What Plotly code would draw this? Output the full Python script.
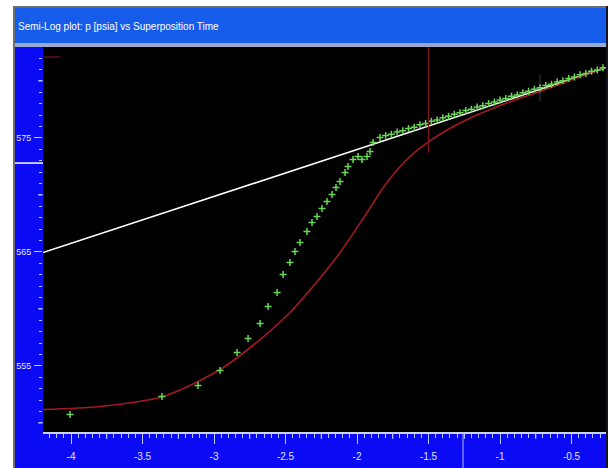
import plotly.graph_objects as go

# ---- data -------------------------------------------------------------
# measured pressure (green crosses): log10 superposition time vs p
meas_x = [-4.007, -3.364, -3.112, -2.958, -2.839, -2.762, -2.678, -2.622, -2.559,
          -2.517, -2.469, -2.434, -2.399, -2.350, -2.315, -2.280, -2.245, -2.210,
          -2.175, -2.147, -2.119, -2.084, -2.063, -2.028, -1.993, -1.965, -1.930,
          -1.909, -1.888, -1.839,
          -1.80, -1.76, -1.72, -1.68, -1.64, -1.60, -1.56, -1.52, -1.48, -1.44,
          -1.40, -1.36, -1.32, -1.28, -1.24, -1.20, -1.16, -1.12, -1.08, -1.04,
          -1.00, -0.96, -0.92, -0.88, -0.84, -0.80, -0.76, -0.72, -0.68, -0.64,
          -0.60, -0.56, -0.52, -0.48, -0.44, -0.40, -0.36, -0.32, -0.28]
meas_p = [550.74, 552.32, 553.29, 554.60, 556.18, 557.41, 558.73, 560.22, 561.45,
          563.02, 564.08, 565.04, 565.83, 566.80, 567.59, 568.11, 568.81, 569.43,
          570.04, 570.66, 571.18, 571.97, 572.50, 573.11, 573.38, 573.11, 573.38,
          573.81, 574.60, 575.04,
          575.21, 575.33, 575.52, 575.64, 575.84, 575.95, 576.15, 576.27, 576.46, 576.58,
          576.78, 576.90, 577.09, 577.21, 577.40, 577.52, 577.72, 577.83, 578.03, 578.15,
          578.34, 578.46, 578.66, 578.78, 578.97, 579.09, 579.28, 579.40, 579.60, 579.71,
          579.91, 580.03, 580.22, 580.34, 580.54, 580.65, 580.85, 580.97, 581.16]

# model response (red curve)
model_x = [-4.196, -3.797, -3.357, -2.958, -2.678, -2.469, -2.308, -2.119, -1.930,
           -1.825, -1.720, -1.615, -1.490, -1.370, -1.259, -1.000, -0.720, -0.266]
model_p = [551.18, 551.45, 552.32, 554.69, 557.32, 559.69, 561.97, 564.95, 568.46,
           570.50, 572.20, 573.55, 574.75, 575.70, 576.45, 577.85, 579.08, 581.18]

# semi-log straight line (white)
line_x = [-4.196, -0.266]
line_p = [564.95, 581.13]

# cursor at the start of the semi-log period
cursor_x = -1.5
cursor_bottom = 573.7

x_ticks = [-4, -3.5, -3, -2.5, -2, -1.5, -1, -0.5]
x_labels = ["-4", "-3.5", "-3", "-2.5", "-2", "-1.5", "-1", "-0.5"]
y_ticks = [555, 565, 575]
y_labels = ["555", "565", "575"]
x_mid_ticks = [-4.25, -3.75, -3.25, -2.75, -2.25, -1.75, -1.25, -0.75, -0.25]
y_mid_ticks = [550, 560, 570, 580]

X_RANGE = [-4.196, -0.259]
Y_RANGE = [549.21, 582.98]

# ---- page geometry (px) -----------------------------------------------
W, H = 608, 468
ML, MR, MT, MB = 43, 2, 47, 36
PW, PH = W - ML - MR, H - MT - MB


def px(xp):
    return (xp - ML) / PW


def py(yp):
    return (H - MB - yp) / PH


AXIS_BLUE = "rgb(10,10,245)"
TICK_COL = "rgb(185,200,255)"
FONT = "Liberation Sans, Arial, sans-serif"

fig = go.Figure()

fig.add_trace(go.Scatter(x=line_x, y=line_p, mode="lines",
                         line=dict(color="white", width=1.6),
                         hoverinfo="skip", showlegend=False))
fig.add_trace(go.Scatter(x=model_x, y=model_p, mode="lines",
                         line=dict(color="rgb(165,25,35)", width=1.6, shape="spline",
                                   smoothing=0.8),
                         showlegend=False))
fig.add_trace(go.Scatter(x=meas_x, y=meas_p, mode="markers",
                         marker=dict(symbol="cross-thin", size=5,
                                     line=dict(color="rgb(105,215,85)", width=1.5)),
                         showlegend=False))

shapes = []


def rect(x0, y0, x1, y1, color, layer="below"):
    shapes.append(dict(type="rect", xref="paper", yref="paper",
                       x0=px(x0), x1=px(x1), y0=py(y1), y1=py(y0),
                       fillcolor=color, line=dict(width=0), layer=layer))


# window frame and title bar
rect(0, 0, 13, H, "white")
rect(13, 0, 15, H, "rgb(110,110,110)")
rect(0, 0, W, 6, "white")
rect(13, 6, W, 8, "rgb(110,110,110)")
rect(15, 8, 606, 43, "rgb(22,92,235)")
rect(15, 43, 606, 47, "rgb(150,170,205)")
rect(606, 6, W, H, "rgb(20,20,30)")

# medium ticks
for v in x_mid_ticks:
    shapes.append(dict(type="line", xref="x", yref="paper", x0=v, x1=v,
                       y0=0, y1=-7 / PH, line=dict(color=TICK_COL, width=1)))
for v in y_mid_ticks:
    shapes.append(dict(type="line", xref="paper", yref="y", x0=0, x1=-5 / PW,
                       y0=v, y1=v, line=dict(color=TICK_COL, width=1)))

# cursor line and markers
shapes.append(dict(type="line", xref="x", yref="y", x0=cursor_x, x1=cursor_x,
                   y0=cursor_bottom, y1=Y_RANGE[1],
                   line=dict(color="rgb(130,20,30)", width=1.2)))
shapes.append(dict(type="line", xref="paper", yref="y", x0=0, x1=px(60),
                   y0=582.1, y1=582.1, line=dict(color="rgb(130,20,30)", width=1.2)))
shapes.append(dict(type="line", xref="paper", yref="y", x0=px(15), x1=0,
                   y0=572.8, y1=572.8, line=dict(color="white", width=1.5)))
shapes.append(dict(type="line", xref="x", yref="paper", x0=-1.259, x1=-1.259,
                   y0=0, y1=py(468), line=dict(color="rgb(170,185,255)", width=1)))
shapes.append(dict(type="line", xref="x", yref="y", x0=-0.72, x1=-0.72,
                   y0=578.2, y1=580.6, line=dict(color="rgba(160,160,160,0.35)", width=1)))

fig.update_layout(
    width=W, height=H,
    margin=dict(l=ML, r=MR, t=MT, b=MB, pad=0),
    paper_bgcolor=AXIS_BLUE,
    plot_bgcolor="black",
    shapes=shapes,
    annotations=[dict(text="Semi-Log plot: p [psia] vs Superposition Time",
                      xref="paper", yref="paper", x=px(16), y=py(26),
                      xanchor="left", yanchor="middle", showarrow=False,
                      font=dict(family=FONT, size=10, color="white"))],
    xaxis=dict(range=X_RANGE, tickvals=x_ticks, ticktext=x_labels,
               ticks="outside", ticklen=10, tickwidth=1, tickcolor=TICK_COL,
               showgrid=False, zeroline=False, showline=True,
               linecolor="rgb(200,212,255)", linewidth=2,
               ticklabelstandoff=4,
               tickfont=dict(family=FONT, size=10, color="rgb(225,230,255)"),
               minor=dict(tickmode="linear", tick0=0, dtick=0.05, ticklen=4,
                          tickcolor=TICK_COL, showgrid=False)),
    yaxis=dict(range=Y_RANGE, tickvals=y_ticks, ticktext=y_labels,
               ticks="outside", ticklen=8, tickwidth=1, tickcolor=TICK_COL,
               showgrid=False, zeroline=False, showline=False,
               ticklabelstandoff=1,
               tickfont=dict(family=FONT, size=9, color="rgb(225,230,255)"),
               minor=dict(tickmode="linear", tick0=0, dtick=1, ticklen=3,
                          tickcolor=TICK_COL, showgrid=False)),
)

fig.write_html("out.html")
